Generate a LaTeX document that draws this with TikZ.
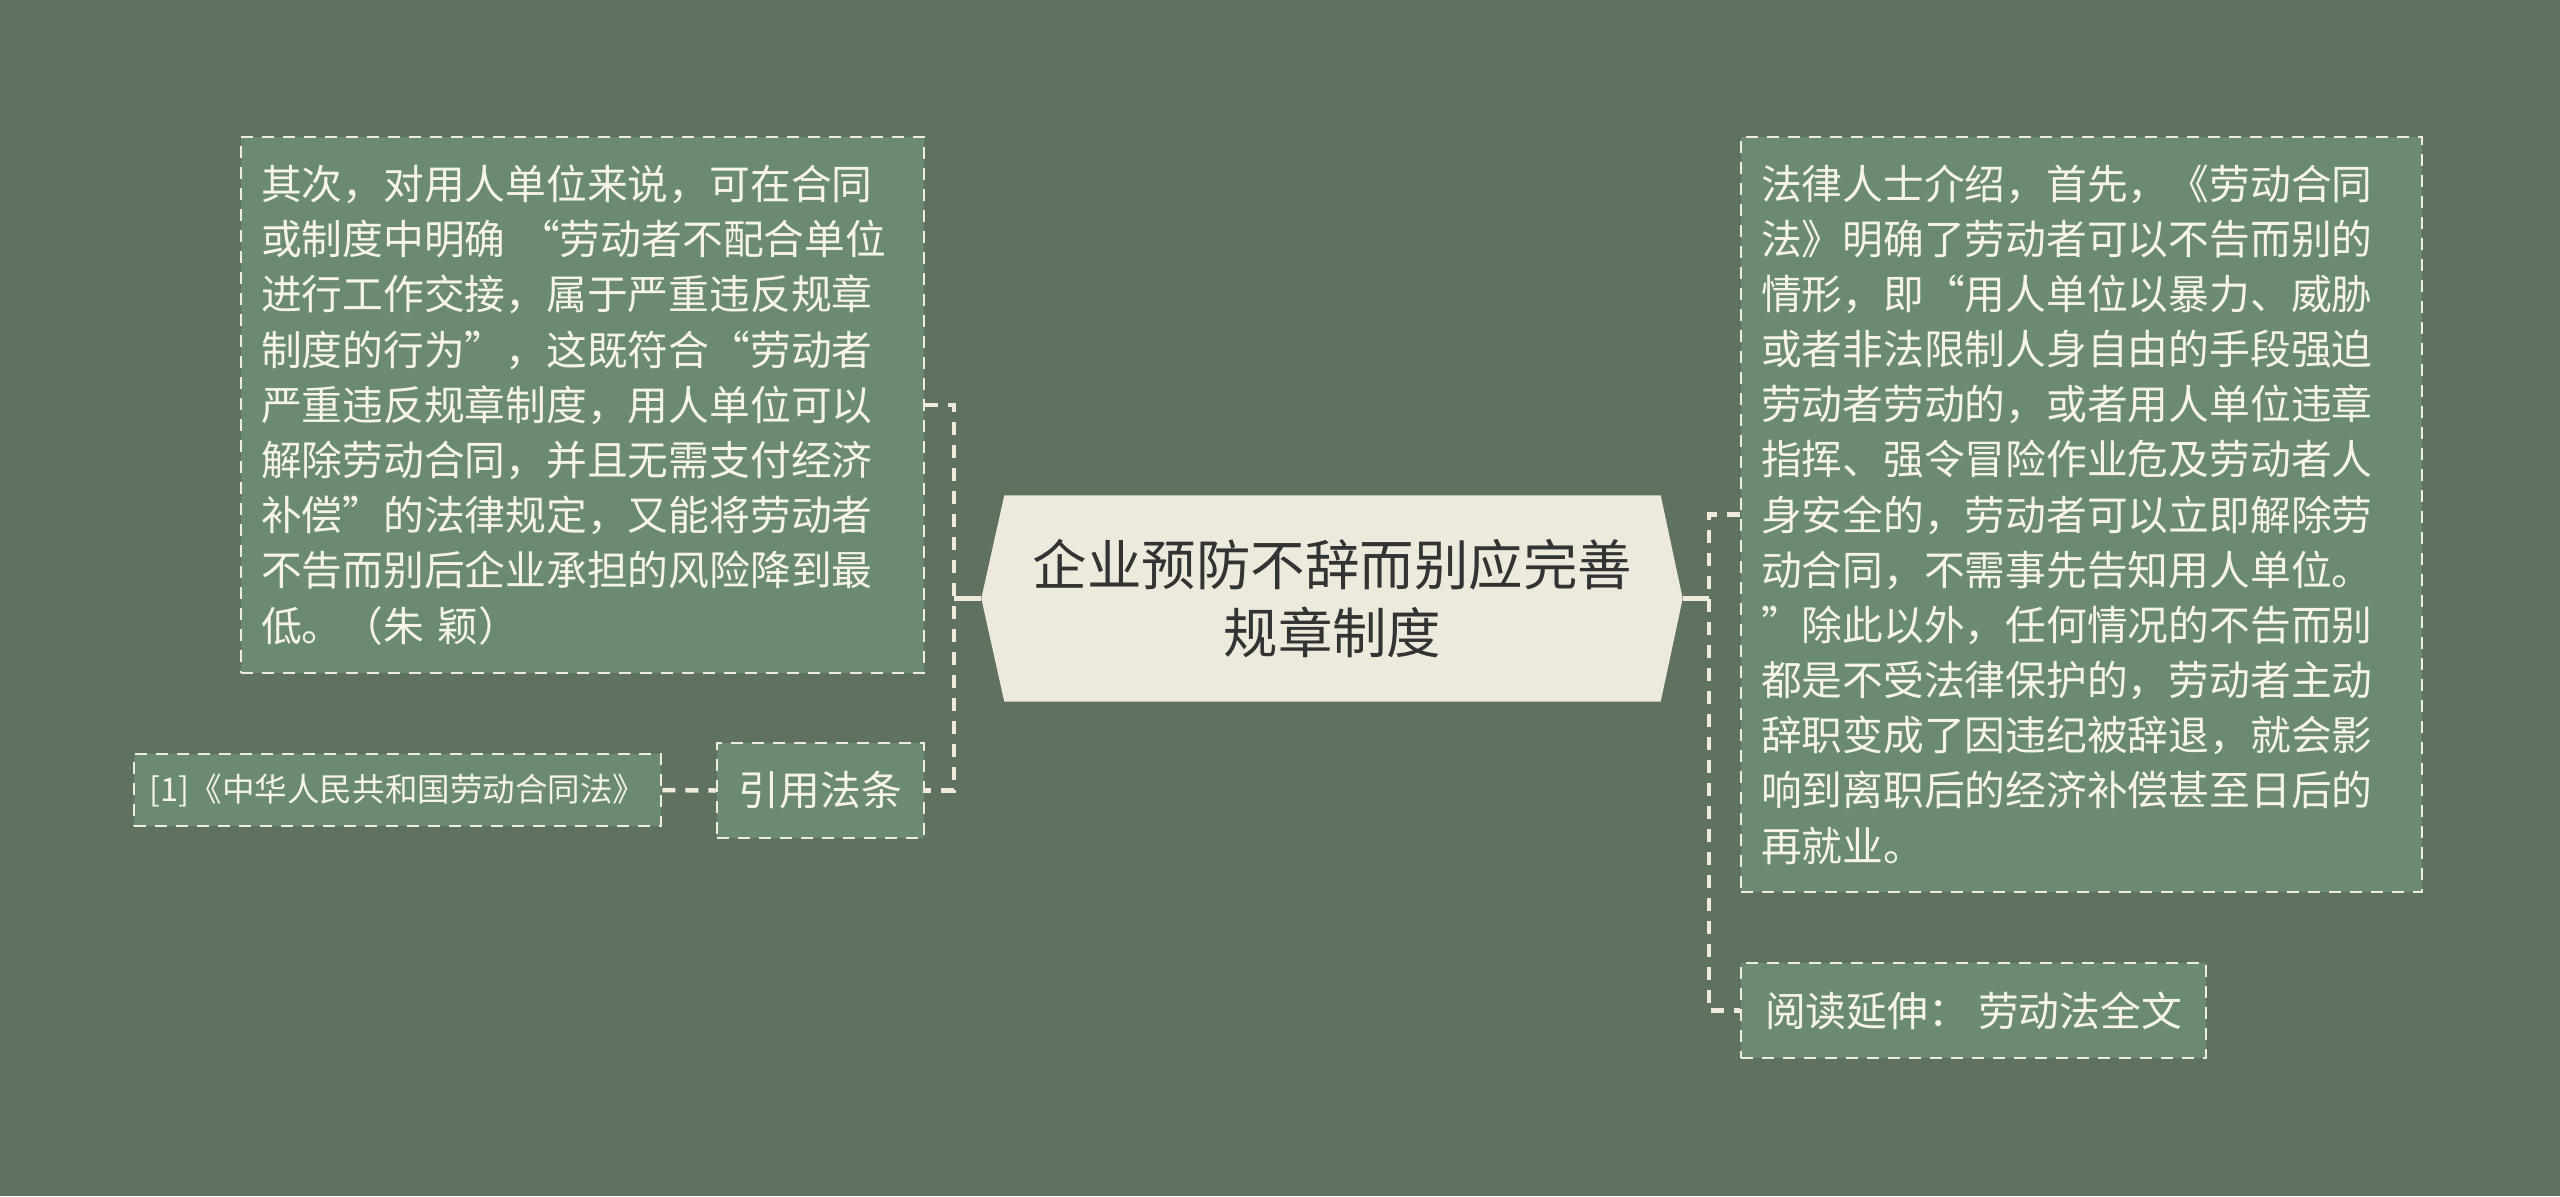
\documentclass[tikz,border=0pt]{standalone}
\usepackage{fontspec}
\setmainfont{Noto Sans CJK SC}
\usetikzlibrary{backgrounds}
\definecolor{canvas}{HTML}{5F7262}
\definecolor{leaffill}{HTML}{6B8A72}
\definecolor{cream}{HTML}{F0ECDC}
\definecolor{leaftext}{HTML}{F6F3E8}
\definecolor{rootfill}{HTML}{EEEADB}
\definecolor{roottext}{HTML}{333333}
\tikzset{
  leafbox/.style={draw=cream, fill=leaffill, text=leaftext, line width=0.25mm,
    dash pattern=on 1.2mm off 0.9mm, inner xsep=2mm, inner ysep=0pt,
    font=\fontsize{11.6}{15.7}\selectfont},
  rootbox/.style={text=roottext, align=center, minimum width=65.5mm,
    minimum height=20.5mm, font=\fontsize{15.5}{19.6}\selectfont},
  link/.style={draw=cream, line width=0.45mm, dash pattern=on 1.3mm off 1mm},
  stub/.style={draw=cream, line width=0.45mm},
}

\begin{document}
\begin{tikzpicture}[x=0.1mm,y=-0.1mm]
    \useasboundingbox(0,0)rectangle(2560,1196);
    \begin{scope}[on background layer]
        \fill[canvas](0,0)rectangle(2560,1196);
    \end{scope}

    \node[rootbox](root)at(1332.5,598.5){企业预防不辞而别应完善\\规章制度};
    \coordinate(rootL)at([xshift=-2.3mm]root.west);
    \coordinate(rootR)at([xshift=2.2mm]root.east);
    \begin{scope}[on background layer]
        \fill[rootfill](root.north west)--(root.north east)--(rootR)--(root.south east)
            --(root.south west)--(rootL)--cycle;
    \end{scope}

    \node[leafbox, text width=64.3mm, minimum height=53.6mm, align=left](rule)at(582.5,405){%
        其次，对用人单位来说，可在合同\\
        或制度中明确 “劳动者不配合单位\\
        进行工作交接，属于严重违反规章\\
        制度的行为”，这既符合“劳动者\\
        严重违反规章制度，用人单位可以\\
        解除劳动合同，并且无需支付经济\\
        补偿”的法律规定，又能将劳动者\\
        不告而别后企业承担的风险降到最\\
        低。（朱 颖）};
    \node[leafbox, minimum width=20.7mm, minimum height=9.5mm](cite)at(820.5,790.5){引用法条};
    \node[leafbox, minimum width=52.1mm, minimum height=7.2mm, inner xsep=1.6mm,
        font=\fontsize{9.25}{12}\selectfont](ref)at(397.5,790){[1]《中华人民共和国劳动合同法》};

    \node[leafbox, text width=64.1mm, minimum height=75.5mm, align=left](law)at(2081.5,514.5){%
        法律人士介绍，首先，《劳动合同\\
        法》明确了劳动者可以不告而别的\\
        情形，即“用人单位以暴力、威胁\\
        或者非法限制人身自由的手段强迫\\
        劳动者劳动的，或者用人单位违章\\
        指挥、强令冒险作业危及劳动者人\\
        身安全的，劳动者可以立即解除劳\\
        动合同，不需事先告知用人单位。\\
        ”除此以外，任何情况的不告而别\\
        都是不受法律保护的，劳动者主动\\
        辞职变成了因违纪被辞退，就会影\\
        响到离职后的经济补偿甚至日后的\\
        再就业。};
    \node[leafbox, minimum width=46.5mm, minimum height=9.5mm](more)at(1973.5,1010.5){阅读延伸： 劳动法全文};

    \coordinate(jl)at(954,598.5);
    \coordinate(jr)at(1709,598.5);
    \draw[stub](rootL)--(jl);
    \draw[stub](rootR)--(jr);
    \draw[link](rule.east)-|(jl)|-(cite.east);
    \draw[link](ref.east)--(cite.west);
    \draw[link](law.west)-|(jr)|-(more.west);
\end{tikzpicture}
\end{document}
